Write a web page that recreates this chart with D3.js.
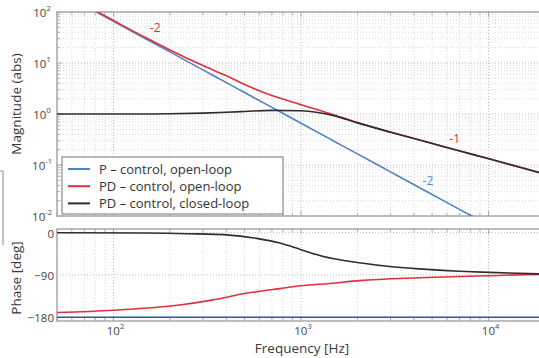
<!DOCTYPE html>
<html>
<head>
<meta charset="utf-8">
<title>Bode plot - P vs PD control</title>
<script src="https://cdn.jsdelivr.net/npm/d3@7"></script>
<style>
  html, body { margin: 0; background: #fff; }
  svg { display: block; font-family: "Open Sans", sans-serif; }
  .minor { stroke: #cfcfcf; stroke-dasharray: 1,2; stroke-width: 0.8; }
  .major { stroke: #b0b0b0; stroke-dasharray: 1,2; stroke-width: 0.9; }
  .frame { fill: none; stroke: #a8a8a8; stroke-width: 1.5; }
  .tick { stroke: #999; stroke-width: 0.8; }
  .lbl { fill: #444; font-size: 11.5px; }
  .title { fill: #3a3a3a; font-size: 13.5px; }
  .curve { fill: none; stroke-width: 1.6; }
</style>
</head>
<body>
<svg id="chart" width="539" height="358"></svg>
<script>
// frequency axis ticks (Hz)
var freqTicks = [100, 1000, 10000];
var magTicks = [0.01, 0.1, 1, 10, 100];
var phaseTicks = [0, -90, -180];

// magnitude
var magFreq = [50, 100, 150, 200, 300, 400, 500, 700, 1000, 1500, 2000, 3000, 5000, 7000, 10000, 15000, 20000];
var magP   = [264, 65.9, 29.3, 16.5, 7.33, 4.12, 2.64, 1.35, 0.659, 0.293, 0.165, 0.0733, 0.0264, 0.0135, 0.0066, 0.0029, 0.00165];
var magPD  = [270, 68, 30.8, 18.0, 8.9, 5.6, 3.8, 2.3, 1.52, 0.96, 0.68, 0.444, 0.267, 0.19, 0.134, 0.089, 0.067];
var magCL  = [1.0, 1.0, 1.0, 1.01, 1.04, 1.08, 1.12, 1.18, 1.16, 0.93, 0.67, 0.44, 0.265, 0.188, 0.133, 0.088, 0.066];

// phase
var phFreqP  = [50, 20000];
var phaseP   = [-180, -180];
var phFreqPD = [50, 100, 225, 340, 510, 770, 1000, 1420, 2050, 4270, 10000, 18500, 20000];
var phasePD  = [-170, -165, -154, -143, -129, -119, -113, -108, -102, -96, -91.5, -89, -89];
var phFreqCL = [50, 150, 250, 416, 580, 770, 1000, 1300, 2050, 2970, 4270, 7000, 10000, 20000];
var phaseCL  = [0, -0.5, -2, -5, -12, -22, -36, -50, -64, -72, -77, -82, -84.5, -88];

var legendNames = ["P \u2013 control, open-loop", "PD \u2013 control, open-loop", "PD \u2013 control, closed-loop"];
var colors = ["#4f81c0", "#e0303c", "#2e2e2e"];

var svg = d3.select("#chart");

var x = d3.scaleLog().domain([50, 20000]).range([57, 545]);
var yMag = d3.scaleLog().domain([0.01, 100]).range([216, 12]);
var yPh = d3.scaleLinear().domain([-188, 8]).range([321, 229]);

// minor positions
var xMinor = [];
[10, 100, 1000, 10000].forEach(function(d) {
    for (var k = 2; k <= 9; k++) {
        var v = k * d;
        if (v >= 50 && v <= 20000) xMinor.push(v);
    }
});
var yMinor = [];
[0.01, 0.1, 1, 10].forEach(function(d) {
    for (var k = 2; k <= 9; k++) yMinor.push(k * d);
});

function panel(id, top, bottom) {
    svg.append("clipPath").attr("id", id)
        .append("rect").attr("x", 57).attr("y", top).attr("width", 490).attr("height", bottom - top);
    var g = svg.append("g");
    g.selectAll(".xm").data(xMinor).enter().append("line")
        .attr("class", "minor")
        .attr("x1", function(d) { return x(d); }).attr("x2", function(d) { return x(d); })
        .attr("y1", top).attr("y2", bottom);
    g.selectAll(".xM").data(freqTicks).enter().append("line")
        .attr("class", "major")
        .attr("x1", function(d) { return x(d); }).attr("x2", function(d) { return x(d); })
        .attr("y1", top).attr("y2", bottom);
    // inside ticks on top and bottom
    [top, bottom].forEach(function(edge, i) {
        var dir = i == 0 ? 1 : -1;
        g.selectAll(".tk" + i).data(xMinor.concat(freqTicks)).enter().append("line")
            .attr("class", "tick")
            .attr("x1", function(d) { return x(d); }).attr("x2", function(d) { return x(d); })
            .attr("y1", edge).attr("y2", function(d) { return edge + dir * (freqTicks.indexOf(d) >= 0 ? 5 : 3); });
    });
    return g;
}

// magnitude panel
var gm = panel("clipMag", 12, 216);
gm.selectAll(".ym").data(yMinor).enter().append("line")
    .attr("class", "minor")
    .attr("x1", 57).attr("x2", 545)
    .attr("y1", function(d) { return yMag(d); }).attr("y2", function(d) { return yMag(d); });
gm.selectAll(".yM").data(magTicks).enter().append("line")
    .attr("class", "major")
    .attr("x1", 57).attr("x2", 545)
    .attr("y1", function(d) { return yMag(d); }).attr("y2", function(d) { return yMag(d); });
gm.selectAll(".ytk").data(yMinor.concat(magTicks)).enter().append("line")
    .attr("class", "tick")
    .attr("x1", 57).attr("x2", function(d) { return magTicks.indexOf(d) >= 0 ? 62 : 60; })
    .attr("y1", function(d) { return yMag(d); }).attr("y2", function(d) { return yMag(d); });
gm.append("rect").attr("class", "frame").attr("x", 57).attr("y", 12).attr("width", 500).attr("height", 204);

// phase panel
var gp = panel("clipPh", 229, 321);
gp.selectAll(".yM").data(phaseTicks).enter().append("line")
    .attr("class", "major")
    .attr("x1", 57).attr("x2", 545)
    .attr("y1", function(d) { return yPh(d); }).attr("y2", function(d) { return yPh(d); });
gp.append("rect").attr("class", "frame").attr("x", 57).attr("y", 229).attr("width", 500).attr("height", 92);

// curves
var lineMag = d3.line()
    .x(function(d) { return x(d[0]); })
    .y(function(d) { return yMag(d[1]); })
    .curve(d3.curveMonotoneX);
var linePh = d3.line()
    .x(function(d) { return x(d[0]); })
    .y(function(d) { return yPh(d[1]); })
    .curve(d3.curveMonotoneX);

var magSeries = [magP, magPD, magCL];
magSeries.forEach(function(vals, i) {
    svg.append("path")
        .datum(d3.zip(magFreq, vals))
        .attr("class", "curve")
        .attr("clip-path", "url(#clipMag)")
        .attr("stroke", colors[i])
        .attr("d", lineMag);
});

var phSeries = [[phFreqP, phaseP], [phFreqPD, phasePD], [phFreqCL, phaseCL]];
phSeries.forEach(function(s, i) {
    svg.append("path")
        .datum(d3.zip(s[0], s[1]))
        .attr("class", "curve")
        .attr("clip-path", "url(#clipPh)")
        .attr("stroke", i == 0 ? "#2a5ba6" : colors[i])
        .attr("stroke-width", i == 0 ? 2.2 : 1.6)
        .attr("d", linePh);
});

// slope notes
var notes = [
    { t: "-2", f: 167, m: 40.5, c: "#d9303f" },
    { t: "-1", f: 6600, m: 0.27, c: "#d9303f" },
    { t: "-2", f: 4750, m: 0.0405, c: "#5b8cc8" }
];
svg.selectAll(".note").data(notes).enter().append("text")
    .attr("x", function(d) { return x(d.f); })
    .attr("y", function(d) { return yMag(d.m); })
    .attr("text-anchor", "middle")
    .attr("fill", function(d) { return d.c; })
    .style("font-size", "12px")
    .text(function(d) { return d.t; });

// legend
var lg = svg.append("g");
lg.append("rect").attr("x", 62).attr("y", 157).attr("width", 221).attr("height", 57)
    .attr("fill", "#fff").attr("stroke", "#8a8a8a").attr("stroke-width", 1.2);
legendNames.forEach(function(name, i) {
    var yy = 169 + i * 17.2;
    lg.append("line").attr("x1", 68).attr("x2", 90).attr("y1", yy).attr("y2", yy)
        .attr("stroke", colors[i]).attr("stroke-width", 2);
    lg.append("text").attr("x", 99).attr("y", yy + 4.5)
        .attr("fill", "#333").style("font-size", "13px").text(name);
});

// tick labels
function powLabel(sel, exp) {
    sel.append("tspan").text("10");
    sel.append("tspan").attr("dy", -6).style("font-size", "7.5px").text(exp);
}
magTicks.forEach(function(d) {
    var t = svg.append("text").attr("class", "lbl")
        .attr("x", 42).attr("y", yMag(d) + 5).attr("text-anchor", "middle");
    powLabel(t, Math.round(Math.log10(d)));
});
freqTicks.forEach(function(d) {
    var t = svg.append("text").attr("class", "lbl")
        .attr("x", x(d) + 2).attr("y", 335).attr("text-anchor", "middle");
    powLabel(t, Math.round(Math.log10(d)));
});
phaseTicks.forEach(function(d) {
    svg.append("text").attr("class", "lbl")
        .attr("x", 54).attr("y", yPh(d) + 5).attr("text-anchor", "end")
        .text(d == 0 ? "0" : "\u2212" + (-d));
});

// axis titles
svg.append("text").attr("class", "title")
    .attr("transform", "translate(21,104) rotate(-90)")
    .attr("text-anchor", "middle").text("Magnitude (abs)");
svg.append("text").attr("class", "title")
    .attr("transform", "translate(21,278) rotate(-90)")
    .attr("text-anchor", "middle").text("Phase [deg]");
svg.append("text").attr("class", "title")
    .attr("x", 302).attr("y", 353)
    .attr("text-anchor", "middle").text("Frequency [Hz]");

// stray frame edge at far left
svg.append("path").attr("d", "M0,171H3V245").attr("fill", "none").attr("stroke", "#9a9a9a").attr("stroke-width", 1.2);
</script>
</body>
</html>
